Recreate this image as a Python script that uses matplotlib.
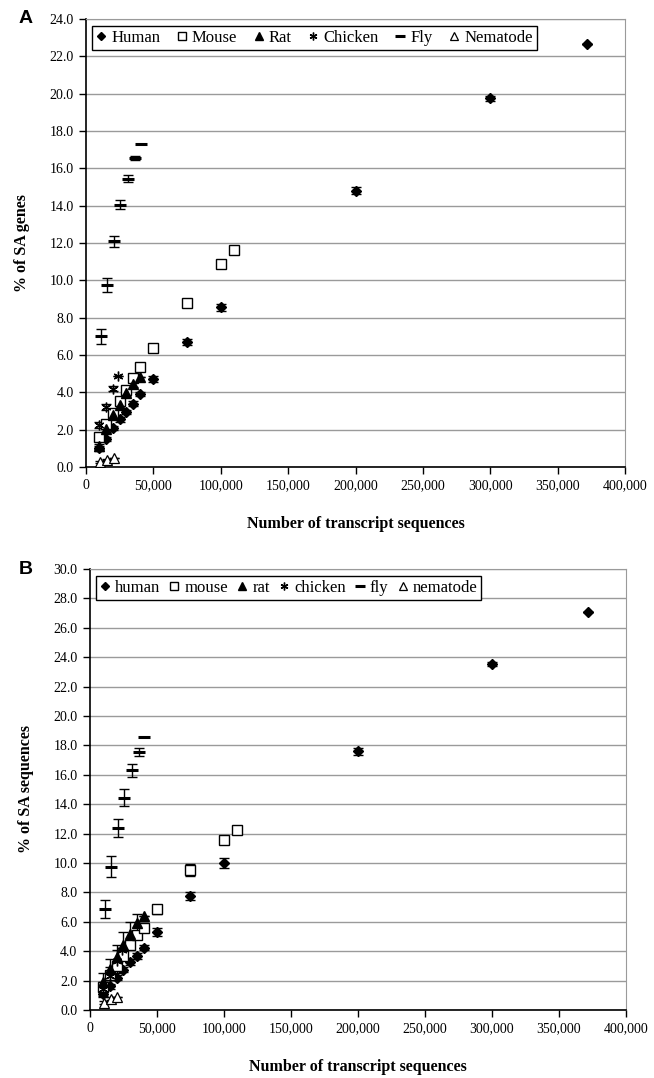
import numpy as np
import matplotlib
matplotlib.use("Agg")
import matplotlib.pyplot as plt
from matplotlib.ticker import FuncFormatter, MultipleLocator

# sample sizes (number of transcript sequences)
human_x = [10000, 15000, 20000, 25000, 30000, 35000, 40000, 50000, 75000, 100000, 200000, 300000, 372000]
mouse_x = [10000, 15000, 20000, 25000, 30000, 35000, 40000, 50000, 75000, 100000, 110000]
rat_x = [10000, 15000, 20000, 25000, 30000, 35000, 40000]
chicken_x = [10000, 15000, 20000, 24000]
fly_x = [11000, 15500, 21000, 25500, 31000, 36500, 40500]
nematode_x = [10500, 15500, 20500]

# panel A: % of SA genes
human_a = [1.0, 1.5, 2.1, 2.55, 2.95, 3.4, 3.9, 4.7, 6.7, 8.55, 14.8, 19.75, 22.65]
human_a_err = [0.12, 0.12, 0.12, 0.12, 0.12, 0.12, 0.12, 0.15, 0.15, 0.2, 0.2, 0.15, 0]
mouse_a = [1.6, 2.3, 2.9, 3.55, 4.15, 4.75, 5.35, 6.4, 8.8, 10.85, 11.6]
mouse_a_err = [0.1, 0.1, 0.1, 0.1, 0.1, 0.1, 0.1, 0.1, 0.1, 0.1, 0]
rat_a = [1.1, 2.05, 2.8, 3.3, 3.95, 4.45, 4.8]
rat_a_err = [0.15, 0.15, 0.15, 0.15, 0.15, 0.15, 0]
chicken_a = [2.25, 3.2, 4.2, 4.85]
chicken_a_err = [0.15, 0.15, 0.12, 0]
fly_a = [7.0, 9.75, 12.1, 14.05, 15.45, 16.55, 17.3]
fly_a_err = [0.4, 0.35, 0.3, 0.25, 0.2, 0.12, 0]
nematode_a = [0.27, 0.4, 0.5]
nematode_a_err = [0.05, 0.05, 0]

# panel B: % of SA sequences
human_b = [1.1, 1.6, 2.2, 2.75, 3.25, 3.7, 4.25, 5.3, 7.75, 10.0, 17.6, 23.55, 27.05]
human_b_err = [0.15, 0.15, 0.15, 0.15, 0.2, 0.2, 0.2, 0.3, 0.3, 0.35, 0.25, 0.15, 0]
mouse_b = [1.55, 2.35, 3.0, 3.7, 4.45, 5.1, 5.6, 6.85, 9.5, 11.55, 12.25]
mouse_b_err = [0.3, 0.3, 0.3, 0.3, 0.3, 0.3, 0.3, 0.3, 0.4, 0.2, 0]
rat_b = [1.9, 2.8, 3.6, 4.4, 5.2, 5.9, 6.4]
rat_b_err = [0.6, 0.7, 0.8, 0.9, 0.8, 0.6, 0]
chicken_b = [1.4, 2.3, 3.3, 4.1]
chicken_b_err = [0.5, 0.6, 0.8, 0]
fly_b = [6.85, 9.75, 12.4, 14.45, 16.3, 17.55, 18.6]
fly_b_err = [0.6, 0.7, 0.6, 0.55, 0.45, 0.3, 0]
nematode_b = [0.5, 0.75, 0.9]
nematode_b_err = [0.1, 0.1, 0]

names_a = ["Human", "Mouse", "Rat", "Chicken", "Fly", "Nematode"]
names_b = ["human", "mouse", "rat", "chicken", "fly", "nematode"]

serif = ["Liberation Serif", "DejaVu Serif"]

styles = [
    dict(marker="D", ms=5, mfc="black", mec="black"),
    dict(marker="s", ms=7, mfc="white", mec="black", mew=1.0),
    dict(marker="^", ms=7, mfc="black", mec="black"),
    dict(marker=(6, 2, 0), ms=7, mfc="black", mec="black", mew=1.0),
    dict(marker="_", ms=9, mfc="black", mec="black", mew=2.2),
    dict(marker="^", ms=7, mfc="white", mec="black", mew=0.9),
]

fig = plt.figure(figsize=(6.54, 10.78), dpi=100)
ax_a = fig.add_axes([0.1315, 0.5668, 0.8242, 0.4156])
ax_b = fig.add_axes([0.1376, 0.0631, 0.8196, 0.4091])


def draw(ax, series, names, ymax, ylabel, leg_w):
    handles = []
    for (xs, ys, es), st, nm in zip(series, styles, names):
        ax.errorbar(xs, ys, yerr=es, fmt="none", ecolor="black", elinewidth=1.0,
                    capsize=3.5, capthick=1.0, zorder=3)
        h, = ax.plot(xs, ys, linestyle="none", zorder=4, **st)
        handles.append(h)
    ax.set_xlim(0, 400000)
    ax.set_ylim(0, ymax)
    ax.xaxis.set_major_locator(MultipleLocator(50000))
    ax.yaxis.set_major_locator(MultipleLocator(2))
    ax.xaxis.set_major_formatter(FuncFormatter(lambda v, p: f"{int(v):,}"))
    ax.yaxis.set_major_formatter(FuncFormatter(lambda v, p: f"{v:.1f}"))
    ax.grid(axis="y", color="#9a9a9a", linewidth=1.0)
    ax.set_axisbelow(True)
    for s in ["top", "right"]:
        ax.spines[s].set_color("#9a9a9a")
    for s in ["left", "bottom"]:
        ax.spines[s].set_color("black")
        ax.spines[s].set_linewidth(1.2)
    ax.tick_params(direction="out", length=5, width=1, labelsize=10, pad=4)
    for lab in ax.get_xticklabels() + ax.get_yticklabels():
        lab.set_family(serif)
    ax.set_xlabel("Number of transcript sequences", family=serif, fontsize=11.5,
                  fontweight="bold", labelpad=17)
    ax.set_ylabel(ylabel, family=serif, fontsize=11.5, fontweight="bold", labelpad=14)
    leg = ax.legend(handles, names, loc="upper left", ncol=6, frameon=True,
                    fancybox=False, edgecolor="black", framealpha=1,
                    prop={"family": serif, "size": 12}, handlelength=0.6,
                    handletextpad=0.3, columnspacing=leg_w, borderpad=0.25,
                    borderaxespad=0, bbox_to_anchor=(0.011, 0.984), markerscale=0.8)
    leg.get_frame().set_linewidth(1.0)


series_a = [(human_x, human_a, human_a_err), (mouse_x, mouse_a, mouse_a_err),
            (rat_x, rat_a, rat_a_err), (chicken_x, chicken_a, chicken_a_err),
            (fly_x, fly_a, fly_a_err), (nematode_x, nematode_a, nematode_a_err)]
series_b = [(human_x, human_b, human_b_err), (mouse_x, mouse_b, mouse_b_err),
            (rat_x, rat_b, rat_b_err), (chicken_x, chicken_b, chicken_b_err),
            (fly_x, fly_b, fly_b_err), (nematode_x, nematode_b, nematode_b_err)]

draw(ax_a, series_a, names_a, 24, "% of SA genes", 1.0)
draw(ax_b, series_b, names_b, 30, "% of SA sequences", 0.55)

fig.text(0.028, 0.983, "A", fontsize=14, fontweight="bold", family="Liberation Sans", va="center")
fig.text(0.028, 0.472, "B", fontsize=14, fontweight="bold", family="Liberation Sans", va="center")

fig.savefig("out.png", dpi=100)
